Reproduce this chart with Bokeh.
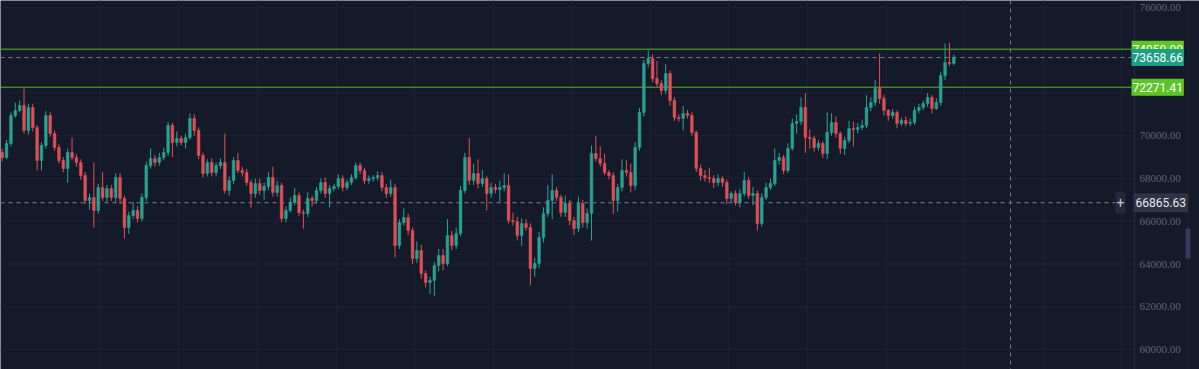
from bokeh.plotting import figure
from bokeh.models import (ColumnDataSource, Range1d, FixedTicker, Span, Label,
                          LabelSet, Grid, BoxAnnotation)
from bokeh.embed import file_html
from bokeh.resources import INLINE

# ---------------- data ----------------
first_open = 69216
closes = [
    68982, 69637, 70947, 71181, 71415, 70246, 71322, 70386, 68842, 69544,
    70947, 70105, 69450, 68842, 68468, 69216, 68982, 68749, 68140, 66971,
    67111, 66503, 67579, 67111, 67532, 67111, 68047, 67065, 65708, 66269,
    66503, 66129, 67111, 68608, 68936, 68749, 68982, 69216, 70479, 69684,
    69871, 69684, 69918, 70807, 70246, 69076, 68234, 68749, 68281, 68608,
    68749, 67439, 67907, 68842, 68374, 68281, 67813, 67298, 67766, 67439,
    67626, 68047, 67345, 67673, 66129, 66503, 66877, 67205, 66410, 66363,
    67065, 66971, 67439, 67813, 67298, 67532, 67626, 68000, 67579, 67813,
    68047, 68608, 68374, 67907, 68000, 68047, 68140, 67579, 67298, 67579,
    64866, 65942, 66176, 65568, 64258, 64632, 63556, 63135, 63229, 63930,
    64398, 64024, 65334, 64866, 65427, 67439, 68982, 67907, 68234, 67766,
    68000, 67298, 67579, 67486, 67579, 67673, 66035, 65989, 65334, 65895,
    65708, 63790, 64024, 65240, 66363, 66971, 67439, 67111, 66410, 66831,
    66035, 65661, 66831, 65942, 66363, 69170, 68936, 68702, 68281, 68140,
    66971, 67579, 68374, 68281, 67673, 69450, 71088, 73380, 73614, 72678,
    72444, 72117, 72912, 71649, 70854, 70807, 71041, 70947, 70152, 68468,
    68140, 68047, 68000, 67813, 68000, 67813, 67065, 67298, 66877, 67298,
    67907, 67205, 67298, 65895, 67111, 67579, 67766, 68842, 68982, 68374,
    69404, 70573, 70667, 71322, 69918, 69871, 69450, 69637, 69170, 70152,
    70620, 70105, 69404, 69778, 70339, 70292, 70386, 70479, 71322, 71555,
    72210, 71743, 71181, 70947, 71088, 70573, 70713, 70573, 70620, 71181,
    71322, 71509, 71789, 71275, 71555, 72818, 73427, 73380, 73660,
]
highs = [
    69400, 69800, 71100, 71550, 71650, 72210, 71500, 71500, 70500, 69700,
    71150, 71100, 70250, 69600, 69000, 69400, 69900, 69150, 68900, 68300,
    67300, 68750, 67750, 68300, 67700, 67700, 68250, 68250, 67200, 66450,
    66900, 66700, 67300, 68800, 69400, 69100, 69200, 69450, 70650, 70600,
    70200, 70000, 70100, 71050, 71000, 70400, 69200, 68900, 68950, 68750,
    68950, 70100, 68100, 69000, 69200, 68550, 68450, 67950, 68000, 68000,
    67800, 68300, 68550, 67900, 67800, 66700, 67100, 67550, 67350, 66550,
    67350, 67200, 67600, 68000, 68050, 67700, 67750, 68200, 68150, 67950,
    68200, 68750, 68750, 68500, 68150, 68150, 68350, 68300, 67750, 67950,
    67750, 66100, 66600, 66350, 65700, 65050, 64900, 63700, 63400, 64100,
    64700, 64700, 66100, 65550, 65700, 67650, 69200, 69900, 68700, 68900,
    68400, 68100, 67800, 67750, 67900, 68250, 68200, 66400, 66200, 66150,
    66100, 65900, 64300, 65500, 66650, 67700, 68200, 67600, 67250, 67200,
    67000, 66200, 67150, 67000, 66600, 69550, 70000, 69500, 69150, 68400,
    68300, 67750, 68900, 68850, 68700, 69700, 71300, 73550, 73990, 73800,
    73500, 72600, 73350, 73050, 71800, 71000, 71400, 71200, 71100, 70250,
    68650, 68400, 68500, 68150, 68200, 68100, 67950, 67400, 67450, 67500,
    68300, 68050, 67600, 67450, 67300, 67800, 68000, 69400, 69200, 69100,
    69650, 70800, 71000, 71800, 72000, 70300, 70000, 69800, 69750, 71100,
    71050, 70900, 70200, 69950, 70700, 70650, 70600, 70750, 71900, 71800,
    72600, 73850, 71900, 71250, 71250, 71200, 70850, 70900, 70800, 71350,
    71500, 71650, 72000, 71900, 71750, 73000, 74315, 74360, 73800,
]
lows = [
    68800, 68900, 69500, 70850, 71100, 70100, 70050, 70200, 68370, 68370,
    69400, 69950, 69300, 68700, 68300, 67800, 68850, 68550, 67950, 66800,
    66550, 65700, 66350, 66950, 66900, 66950, 66900, 66800, 65200, 65400,
    66100, 65950, 66000, 66950, 68450, 68550, 68600, 68850, 69050, 69000,
    69500, 69550, 69400, 69800, 70000, 68900, 68050, 68100, 68100, 68100,
    68450, 67300, 67200, 67750, 68250, 68100, 67650, 66640, 67100, 67250,
    67000, 67450, 67150, 67150, 65950, 65950, 66400, 66750, 66250, 65650,
    66200, 66700, 66800, 67300, 67100, 66650, 67400, 67500, 67400, 67450,
    67700, 67950, 68200, 67750, 67750, 67850, 67900, 67400, 67100, 67150,
    64300, 64700, 65800, 65350, 64000, 64050, 63300, 62900, 62600, 62520,
    63650, 63700, 63900, 64650, 64700, 65300, 67300, 67700, 67700, 67550,
    67600, 66500, 67100, 67300, 66900, 67400, 65900, 65800, 65100, 64850,
    65550, 63000, 63400, 63800, 65000, 66200, 66100, 66950, 66200, 66200,
    65800, 65350, 65500, 65700, 65650, 65100, 68800, 68550, 68150, 67950,
    66350, 66450, 67400, 68100, 67350, 67450, 69300, 70900, 73200, 72500,
    72300, 71900, 71950, 71400, 70700, 70650, 70250, 70800, 70000, 68300,
    67900, 67850, 67800, 67550, 67650, 67600, 66800, 66900, 66750, 66650,
    67150, 67050, 66750, 65570, 65750, 67000, 67450, 67650, 68650, 68200,
    68250, 69300, 70100, 70500, 69200, 69400, 69250, 69300, 68950, 68900,
    70000, 69900, 69150, 69100, 69650, 69500, 70100, 70250, 70350, 71150,
    71400, 71500, 70950, 70700, 70800, 70350, 70450, 70450, 70450, 70500,
    71050, 71200, 71350, 71050, 71200, 71400, 72600, 73250, 73300,
]
opens = [first_open] + closes[:-1]
index = list(range(1, len(closes) + 1))

tick_values = [60000, 62000, 64000, 66000, 68000, 70000, 72000, 74000, 76000]
tick_labels = ["60000.00", "62000.00", "64000.00", "66000.00", "68000.00",
               "70000.00", "72000.00", "74000.00", "76000.00"]

level_high = 74050.00
level_low = 72271.41
last_price = 73658.66
cross_price = 66865.63
cross_index = 232
level_high_label = "74050.00"
level_low_label = "72271.41"
last_price_label = "73658.66"
cross_price_label = "66865.63"

# ---------------- style / layout ----------------
BG = "#151a2b"
GRID = "#1c2133"
UP = "#28a392"
DOWN = "#df5058"
LEVEL = "#57b52c"
TAG_GREEN = "#5ec526"
TAG_TEAL = "#1d9f86"
DASH = "#7b8193"
FONT = "Roboto"

W, H = 1199, 369
PX_PER_BAR = 4.3651          # horizontal spacing of candles in pixels
x_start = 0.61
x_end = x_start + W / PX_PER_BAR
SCALE_LEFT = 1134            # left edge of the price scale (px)


def px_to_x(px):
    return x_start + px / PX_PER_BAR


up_flags = [c >= o for o, c in zip(opens, closes)]
src = ColumnDataSource(dict(
    x=index,
    open=opens,
    close=closes,
    high=highs,
    low=lows,
    top=[max(o, c) for o, c in zip(opens, closes)],
    bottom=[min(o, c) for o, c in zip(opens, closes)],
    color=[UP if u else DOWN for u in up_flags],
))

p = figure(width=W, height=H,
           x_range=Range1d(x_start, x_end), y_range=Range1d(59065, 76327),
           x_axis_location=None, y_axis_location=None,
           output_backend="svg", toolbar_location=None,
           min_border=0,
           background_fill_color=BG, border_fill_color=BG,
           outline_line_color=None)
for g in p.grid:
    g.visible = False

# vertical grid (every 18 candles)
grid_x = [23.5 + 18 * k for k in range(14)]
p.add_layout(Grid(dimension=0, ticker=FixedTicker(ticks=grid_x),
                  grid_line_color=GRID, grid_line_width=1))
# horizontal grid, stopping at the price scale
scale_x = px_to_x(SCALE_LEFT)
p.segment(x0=[x_start] * len(tick_values), y0=tick_values,
          x1=[scale_x] * len(tick_values), y1=tick_values,
          line_color=GRID, line_width=1)

# price scale separators
p.add_layout(Span(location=SCALE_LEFT, location_units="screen",
                  dimension="height", line_color="#252a3b", line_width=1))
p.add_layout(Span(location=1188, location_units="screen",
                  dimension="height", line_color="#1d2233", line_width=1))

# crosshair
p.add_layout(Span(location=cross_index, dimension="height", line_color=DASH,
                  line_dash="4 4", line_width=1))
tag_x = px_to_x(1131)
p.segment(x0=[x_start], y0=[cross_price], x1=[px_to_x(1115)], y1=[cross_price],
          line_color=DASH, line_dash="4 4", line_width=1)
p.segment(x0=[x_start], y0=[last_price], x1=[tag_x], y1=[last_price],
          line_color=DASH, line_dash="4 4", line_width=1)
p.segment(x0=[x_start, x_start], y0=[level_high, level_low],
          x1=[tag_x, tag_x], y1=[level_high, level_low],
          line_color=LEVEL, line_width=1)

# candles
p.segment(x0="x", y0="low", x1="x", y1="high", color="color", line_width=1,
          source=src)
p.vbar(x="x", width=0.62, top="top", bottom="bottom", fill_color="color",
       line_color="color", line_width=0.5, source=src)

# price-scale labels
tick_src = ColumnDataSource(dict(y=tick_values, text=tick_labels,
                                 x=[1139] * len(tick_values)))
p.add_layout(LabelSet(x="x", y="y", text="text", source=tick_src,
                      x_units="screen", y_units="data",
                      text_color="#5e6577", text_font=FONT,
                      text_font_size="11px", text_align="left",
                      text_baseline="middle"))

# scrollbar handle at the far right
p.add_layout(BoxAnnotation(left=1185, right=1190, left_units="screen",
                           right_units="screen", top=65661, bottom=64258,
                           fill_color="#353b60", fill_alpha=1.0,
                           line_color=None))


# price tags
def tag(text, price, x, bg, fg="#ffffff", size="12px", pad=(1, 3)):
    p.add_layout(Label(x=x, y=price, x_units="screen", y_units="data",
                       text=text, text_color=fg, text_font=FONT,
                       text_font_size=size, text_align="left",
                       text_baseline="middle",
                       background_fill_color=bg, padding=pad))


tag(level_high_label, level_high, 1131, TAG_GREEN, pad=(1, 4))
tag(last_price_label, last_price, 1131, TAG_TEAL, pad=(1, 4))
tag(level_low_label, level_low, 1131, TAG_GREEN, pad=(1, 4))
tag("+", cross_price, 1115, "#242a3a", "#c4c8d2", size="14px", pad=(1, 5))
tag(cross_price_label, cross_price, 1133, "#2e3445", "#e6e8ee", pad=(2, 5))

open("out.html", "w").write(file_html(p, INLINE))
